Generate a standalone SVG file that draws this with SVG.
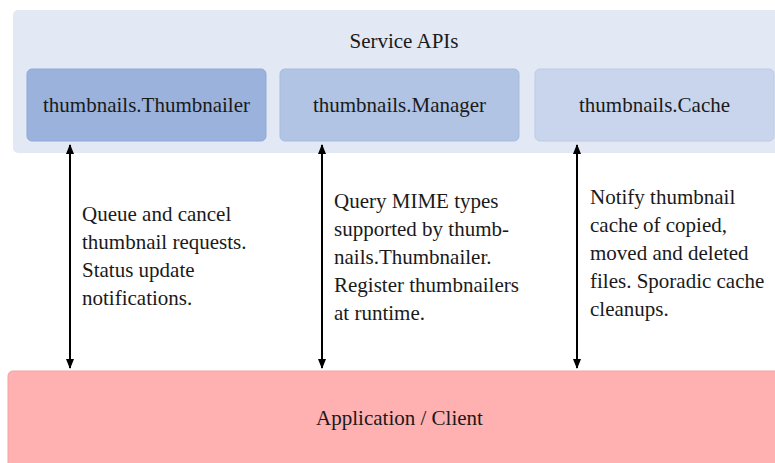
<svg xmlns="http://www.w3.org/2000/svg" width="775" height="463" viewBox="0 0 775 463">
<style>
text{font-family:"Liberation Serif","DejaVu Serif",serif;font-size:21px;fill:#1a1a1a}
.c{text-anchor:middle}
.arr{stroke:#000;stroke-width:2;fill:none;marker-start:url(#ah);marker-end:url(#ah)}
</style>
<defs>
<marker id="ah" viewBox="0 0 10 10" refX="9" refY="5" markerWidth="5" markerHeight="5" orient="auto-start-reverse" markerUnits="strokeWidth">
<path d="M0,1 L10,5 L0,9 Z" fill="#000"/>
</marker>
</defs>
<g id="service-apis">
<rect x="13" y="10" width="775" height="143" rx="5" fill="#e2e8f4"/>
<text class="c" x="404" y="48">Service APIs</text>
</g>
<g id="thumbnailer">
<rect x="27" y="69" width="239" height="72" rx="5" fill="#9bb3dc" stroke="#8fa9d6"/>
<text class="c" x="146.5" y="112">thumbnails.Thumbnailer</text>
</g>
<g id="manager">
<rect x="280" y="69" width="239" height="72" rx="5" fill="#b1c4e4" stroke="#a5bbe0"/>
<text class="c" x="399.5" y="112">thumbnails.Manager</text>
</g>
<g id="cache">
<rect x="535" y="69" width="239" height="72" rx="5" fill="#c8d5ec" stroke="#bccbe8"/>
<text class="c" x="654.5" y="112">thumbnails.Cache</text>
</g>
<g id="client">
<rect x="8" y="371" width="790" height="120" rx="5" fill="#ffb0b0" stroke="#f5a0a0"/>
<text class="c" x="399.5" y="425">Application / Client</text>
</g>
<g id="connectors">
<line class="arr" x1="70" y1="145" x2="70" y2="368"/>
<line class="arr" x1="322" y1="145" x2="322" y2="368"/>
<line class="arr" x1="577" y1="145" x2="577" y2="368"/>
</g>
<g id="labels">
<text x="82" y="221">Queue and cancel</text>
<text x="82" y="249">thumbnail requests.</text>
<text x="82" y="277">Status update</text>
<text x="82" y="305">notifications.</text>
<text x="334" y="208">Query MIME types</text>
<text x="334" y="236">supported by thumb-</text>
<text x="334" y="264">nails.Thumbnailer.</text>
<text x="334" y="292">Register thumbnailers</text>
<text x="334" y="320">at runtime.</text>
<text x="590" y="204">Notify thumbnail</text>
<text x="590" y="232">cache of copied,</text>
<text x="590" y="260">moved and deleted</text>
<text x="590" y="288">files. Sporadic cache</text>
<text x="590" y="316">cleanups.</text>
</g>
</svg>
